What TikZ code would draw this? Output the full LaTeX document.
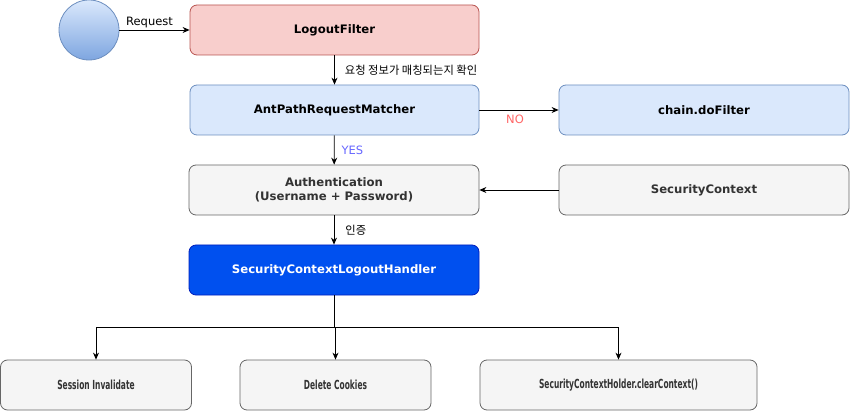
\documentclass[tikz,border=0pt]{standalone}
\usepackage{fontspec}
\setmainfont{DejaVu Sans}
\newfontfamily\korfont{Noto Sans CJK KR}
\newfontfamily\narrowfont[FakeStretch=0.6]{DejaVu Sans}
\usetikzlibrary{arrows.meta}
\definecolor{redfill}{HTML}{F8CECC}
\definecolor{redline}{HTML}{B85450}
\definecolor{bluefill}{HTML}{DAE8FC}
\definecolor{blueline}{HTML}{6C8EBF}
\definecolor{grayfill}{HTML}{F5F5F5}
\definecolor{grayline}{HTML}{666666}
\definecolor{graytext}{HTML}{333333}
\definecolor{deepfill}{HTML}{0050EF}
\definecolor{deepline}{HTML}{001DBC}
\definecolor{circdark}{HTML}{7EA6E0}
\definecolor{notext}{HTML}{FF6666}
\definecolor{yestext}{HTML}{6666FF}

\begin{document}
\begin{tikzpicture}[x=1pt,y=-1pt,
  box/.style={draw, rounded corners=7pt, minimum width=289pt, minimum height=50pt,
    inner sep=0pt, align=center, line width=0.8pt, font=\bfseries\fontsize{11.7}{14.5}\selectfont},
  redbox/.style={box, fill=redfill, draw=redline},
  bluebox/.style={box, fill=bluefill, draw=blueline},
  graybox/.style={box, fill=grayfill, draw=grayline, text=graytext},
  deepbox/.style={box, fill=deepfill, draw=deepline, text=white},
  endbox/.style={graybox, minimum width=191pt, font=\narrowfont\bfseries\fontsize{12.5}{15}\selectfont},
  link/.style={-{Stealth[length=7pt,width=6pt]}, line width=0.8pt},
  lbl/.style={font=\fontsize{11.5}{13}\selectfont, inner sep=1pt},
  kor/.style={font=\korfont\fontsize{11.3}{13}\selectfont, inner sep=1pt}
]
\useasboundingbox (0,0) rectangle (850,411);

% start point
\node[circle, draw=blueline, line width=0.8pt, minimum size=60pt, inner sep=0pt,
  top color=bluefill, bottom color=circdark] (req) at (89,30) {};

% main column
\node[redbox] (logout) at (334.5,30) {LogoutFilter};
\node[bluebox] (matcher) at (334.5,110) {AntPathRequestMatcher};
\node[bluebox, minimum width=290pt] (chain) at (704,110) {chain.doFilter};
\node[graybox, minimum width=290pt] (auth) at (334,190) {Authentication\\(Username + Password)};
\node[graybox, minimum width=290pt] (secctx) at (704,190) {SecurityContext};
\node[deepbox, minimum width=290pt] (handler) at (334,270) {SecurityContextLogoutHandler};

% handler results
\node[endbox] (session) at (96,385) {Session Invalidate};
\node[endbox] (cookies) at (335.5,385) {Delete Cookies};
\node[endbox, minimum width=277pt] (clear) at (618.5,385) {SecurityContextHolder.clearContext()};

\draw[link] (req) -- node[lbl, above, xshift=-5pt, yshift=1pt] {Request} (logout);
\draw[link] (logout) -- node[kor, anchor=west, xshift=9pt] {요청 정보가 매칭되는지 확인} (matcher);
\draw[link] (matcher) -- node[lbl, below, text=notext, xshift=-4pt, yshift=-4pt] {NO} (chain);
\draw[link] (matcher) -- node[lbl, anchor=west, text=yestext, xshift=6pt] {YES} (auth);
\draw[link] (secctx) -- (auth);
\draw[link] (auth) -- node[kor, anchor=west, xshift=10pt] {인증} (handler);

\draw[line width=0.8pt] (handler.south) -- ++(0,32) coordinate (split);
\foreach \t in {session,cookies,clear}
  \draw[link] (split) -| (\t.north);
\end{tikzpicture}
\end{document}
